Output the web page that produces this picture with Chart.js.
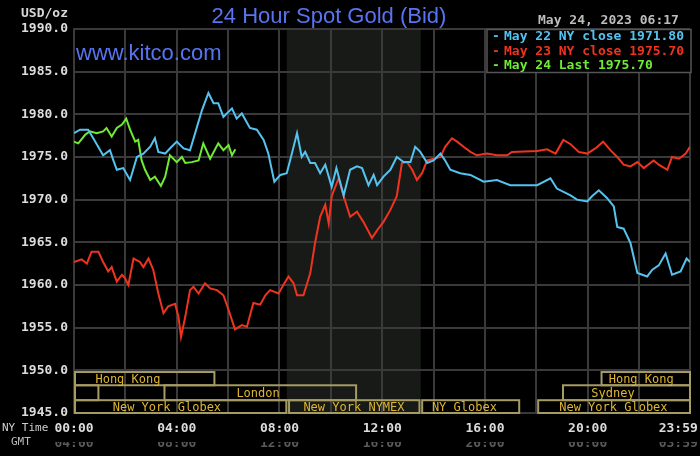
<!DOCTYPE html>
<html><head><meta charset="utf-8">
<script src="https://cdn.jsdelivr.net/npm/chart.js@4.4.1/dist/chart.umd.min.js"></script>
<style>html,body{margin:0;padding:0;background:#000;overflow:hidden}#wrap{width:700px;height:456px;position:relative}</style>
</head><body><div id="wrap"><canvas id="c" width="700" height="456"></canvas></div>
<script>
// ---- data (minutes after 00:00 NY time, price USD/oz) ----
const may22Min = [0,14,33,45,68,84,92,100,115,131,147,162,178,189,197,213,224,240,256,271,283,299,314,326,337,349,369,380,392,411,427,443,454,462,468,482,497,509,521,532,540,552,563,575,587,602,613,630,645,661,673,688,700,708,723,739,754,770,786,797,809,825,840,856,867,879,902,926,957,988,1019,1082,1113,1128,1160,1175,1199,1210,1226,1245,1261,1269,1284,1300,1316,1339,1351,1366,1382,1397,1417,1431,1439];
const may22Val = [1977.8,1978.2,1978.2,1977.2,1975.2,1975.8,1974.6,1973.5,1973.7,1972.3,1975.0,1975.4,1976.2,1977.2,1975.6,1975.4,1976.0,1976.8,1976.0,1975.8,1977.8,1980.5,1982.5,1981.3,1981.3,1979.7,1980.7,1979.5,1980.1,1978.4,1978.2,1977.0,1975.4,1973.5,1972.1,1972.9,1973.1,1975.4,1977.8,1975.0,1975.6,1974.3,1974.3,1973.1,1974.1,1971.5,1973.7,1970.5,1973.5,1973.9,1973.7,1971.7,1972.9,1971.7,1972.7,1973.5,1975.0,1974.4,1974.4,1976.2,1975.6,1974.3,1974.6,1975.4,1974.6,1973.5,1973.1,1972.9,1972.1,1972.3,1971.7,1971.7,1972.5,1971.3,1970.5,1970.0,1969.8,1970.4,1971.1,1970.2,1969.2,1966.8,1966.6,1964.9,1961.4,1961.0,1961.8,1962.3,1963.7,1961.2,1961.6,1963.1,1962.7];
const may23Min = [0,18,30,41,57,68,80,88,100,112,119,127,139,154,162,174,185,197,209,220,236,244,250,260,271,279,291,306,318,334,349,361,376,392,404,419,435,447,458,478,489,501,513,521,536,552,563,575,587,595,602,618,630,645,661,676,696,708,723,739,754,766,778,790,801,813,825,840,856,867,883,895,910,926,941,965,988,1012,1023,1082,1105,1125,1143,1160,1179,1199,1218,1236,1253,1269,1284,1300,1316,1331,1354,1366,1386,1397,1413,1429,1439];
const may23Val = [1962.7,1963.0,1962.5,1963.9,1963.9,1962.7,1961.6,1962.1,1960.4,1961.2,1960.8,1960.0,1963.1,1962.7,1962.1,1963.1,1961.8,1959.0,1956.7,1957.5,1957.8,1956.3,1953.9,1956.3,1959.4,1959.8,1959.0,1960.2,1959.6,1959.4,1958.8,1957.1,1954.8,1955.3,1955.1,1957.9,1957.7,1958.8,1959.4,1959.0,1960.0,1961.0,1960.2,1958.8,1958.8,1961.4,1964.9,1968.0,1969.4,1967.2,1970.4,1972.5,1970.4,1968.0,1968.6,1967.4,1965.5,1966.4,1967.4,1968.8,1970.4,1974.3,1974.4,1973.5,1972.3,1973.1,1974.6,1974.8,1975.0,1976.2,1977.2,1976.8,1976.2,1975.6,1975.2,1975.4,1975.2,1975.2,1975.6,1975.7,1975.9,1975.4,1977.0,1976.5,1975.6,1975.4,1976.0,1976.8,1975.8,1975.0,1974.1,1973.9,1974.4,1973.7,1974.6,1974.1,1973.5,1975.0,1974.8,1975.4,1976.2];
const may24Min = [0,10,26,37,53,68,76,88,100,112,122,131,143,150,158,166,178,189,203,213,224,240,252,260,275,291,302,318,337,349,361,369,377];
const may24Val = [1976.8,1976.6,1977.6,1978.0,1977.8,1978.0,1978.4,1977.4,1978.4,1978.8,1979.5,1978.2,1976.8,1977.0,1974.6,1973.5,1972.3,1972.7,1971.6,1972.7,1975.2,1974.4,1975.0,1974.3,1974.4,1974.6,1976.6,1974.8,1976.6,1975.8,1976.4,1975.2,1975.9];
const seriesLabels = ['May 22 NY close 1971.80','May 23 NY close 1975.70','May 24 Last 1975.70'];
const gridMinutes = [0,120,240,360,480,600,720,840,960,1080,1200,1320,1439];
const labelMinutes = [0,240,480,720,960,1200,1439];
const nyLabels = ['00:00','04:00','08:00','12:00','16:00','20:00','23:59'];
const gmtLabels = ['04:00','08:00','12:00','16:00','20:00','00:00','03:59'];
const yTicks = [1945,1950,1955,1960,1965,1970,1975,1980,1985,1990];
// trading sessions: name, start, end (minutes), row, label centre (minutes)
const sessionNames = ['Hong Kong','','London','New York Globex','New York NYMEX','NY Globex','New York Globex','Sydney','Hong Kong'];
const sessionStart = [0,0,209,0,500,811,1082,1140,1230];
const sessionEnd   = [328,57,659,496,807,1040,1439,1439,1439];
const sessionRow   = [0,1,1,2,2,2,2,1,0];
const sessionTextAt= [126,0,430,217,654,912,1260,1259,1325];
const nymexShade = [497,810];

const colors = ['rgb(85,195,240)','rgb(238,52,30)','rgb(110,235,50)'];
const pts = (m,v)=>m.map((x,i)=>({x:x,y:v[i]}));
const MONO = '"DejaVu Sans Mono", "Liberation Mono", monospace';

const decor = {
  id:'decor',
  beforeDraw(chart){
    const {ctx, chartArea:a, scales:{x}} = chart;
    ctx.save();
    ctx.fillStyle='#000'; ctx.fillRect(0,0,chart.width,chart.height);
    ctx.fillStyle='rgb(24,26,23)';
    const x0=x.getPixelForValue(nymexShade[0]), x1=x.getPixelForValue(nymexShade[1]);
    ctx.fillRect(x0,a.top,x1-x0,a.bottom-a.top);
    ctx.restore();
  },
  afterDatasetsDraw(chart){
    const {ctx, chartArea:a, scales:{x,y}} = chart;
    ctx.save();
    // sessions
    const rowEdges=[1949.8,1948.25,1946.5,1945].map(v=>y.getPixelForValue(v));
    ctx.lineWidth=2; ctx.strokeStyle='rgb(165,155,100)';
    ctx.font='12px '+MONO; ctx.fillStyle='rgb(222,182,50)'; ctx.textAlign='center'; ctx.textBaseline='middle';
    for(let i=0;i<sessionNames.length;i++){
      const r=sessionRow[i];
      const xa=x.getPixelForValue(sessionStart[i]), xb=x.getPixelForValue(sessionEnd[i]);
      const ya=rowEdges[r], yb=rowEdges[r+1];
      ctx.strokeRect(xa+1,ya,xb-xa-1,yb-ya);
      if(sessionNames[i]) ctx.fillText(sessionNames[i], x.getPixelForValue(sessionTextAt[i]), (ya+yb)/2+1);
    }
    // title etc.
    ctx.textBaseline='middle';
    ctx.font='22px "Liberation Sans", Arial, sans-serif';
    ctx.fillStyle='rgb(88,116,240)';
    ctx.textAlign='center'; ctx.fillText('24 Hour Spot Gold (Bid)',329,17);
    ctx.textAlign='left'; ctx.fillText('www.kitco.com',76,54);
    ctx.font='bold 13px '+MONO; ctx.fillStyle='#d8d8d8';
    ctx.textAlign='right'; ctx.fillText('USD/oz',68,14);
    ctx.fillStyle='#bdbdbd'; ctx.textAlign='left'; ctx.fillText('May 24, 2023 06:17',538,21);
    ctx.font='11px '+MONO; ctx.fillStyle='#cfcfcf'; ctx.textAlign='left';
    ctx.fillText('NY Time',2,428);
    ctx.fillStyle='#bdbdbd'; ctx.fillText('GMT',11,442);
    // legend
    ctx.fillStyle='#000'; ctx.fillRect(487,29,204,43);
    ctx.strokeStyle='#555'; ctx.lineWidth=1.5; ctx.strokeRect(487,29.5,204,43);
    ctx.font='bold 13px '+MONO; ctx.textAlign='left';
    chart.data.datasets.forEach((ds,i)=>{
      const yy=37+i*14.2;
      ctx.fillStyle=ds.borderColor;
      ctx.fillText('-',492,yy);
      ctx.fillText(ds.label,504,yy);
    });
    ctx.restore();
  }
};

new Chart(document.getElementById('c'),{
  type:'line',
  data:{datasets:[
    {label:seriesLabels[0],data:pts(may22Min,may22Val),borderColor:colors[0]},
    {label:seriesLabels[1],data:pts(may23Min,may23Val),borderColor:colors[1]},
    {label:seriesLabels[2],data:pts(may24Min,may24Val),borderColor:colors[2]}
  ]},
  options:{
    responsive:false, animation:false, devicePixelRatio:1,
    layout:{padding:{top:29,right:10,left:0,bottom:0}},
    elements:{line:{borderWidth:2,tension:0},point:{radius:0}},
    plugins:{legend:{display:false},tooltip:{enabled:false}},
    scales:{
      x:{type:'linear',position:'bottom',min:0,max:1439,
        afterBuildTicks:s=>{s.ticks=gridMinutes.map(v=>({value:v}));},
        afterFit:s=>{s.height=29;s.paddingLeft=0;s.paddingRight=0;},
        grid:{color:'#3a3a3a',lineWidth:2,drawTicks:false},
        border:{color:'#3a3a3a',width:2},
        ticks:{autoSkip:false,maxRotation:0,padding:8,color:'#dcdcdc',font:{family:MONO,size:13,weight:'bold'},
          callback:v=>{const k=labelMinutes.indexOf(v);return k<0?'':(v===1439?nyLabels[k]+'   ':nyLabels[k]);}}
      },
      x2:{type:'linear',position:'bottom',min:0,max:1439,
        afterBuildTicks:s=>{s.ticks=labelMinutes.map(v=>({value:v}));},
        afterFit:s=>{s.height=14;s.paddingLeft=0;s.paddingRight=0;},
        grid:{display:false,drawTicks:false},border:{display:false},
        ticks:{autoSkip:false,maxRotation:0,padding:-6,color:'#5a5a5a',font:{family:MONO,size:13,weight:'bold'},
          callback:v=>{const k=labelMinutes.indexOf(v);return k<0?'':(v===1439?gmtLabels[k]+'   ':gmtLabels[k]);}}
      },
      y:{min:1945,max:1990,
        afterBuildTicks:s=>{s.ticks=yTicks.map(v=>({value:v}));},
        afterFit:s=>{s.width=74;s.paddingTop=0;s.paddingBottom=0;},
        grid:{color:'#3a3a3a',lineWidth:2,drawTicks:false},
        border:{color:'#3a3a3a',width:2},
        ticks:{padding:6,color:'#dcdcdc',font:{family:MONO,size:13,weight:'bold'},callback:v=>v.toFixed(1)}
      }
    }
  },
  plugins:[decor]
});
</script></body></html>
